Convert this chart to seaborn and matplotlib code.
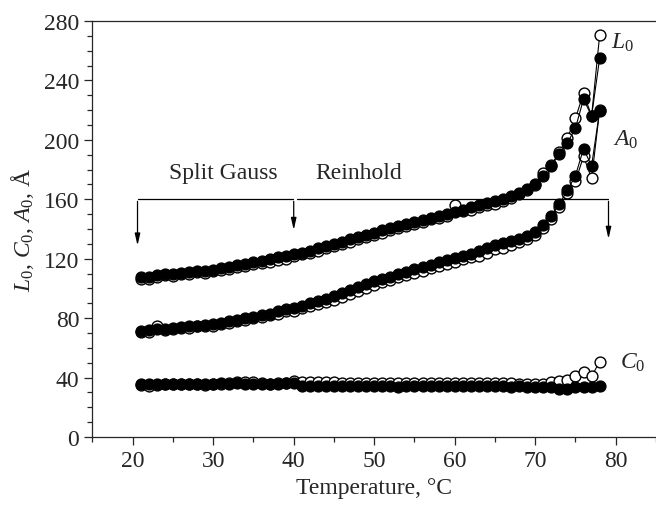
import matplotlib
matplotlib.use("Agg")
import matplotlib.pyplot as plt
from matplotlib.ticker import MultipleLocator
import seaborn as sns

temperature = [21, 22, 23, 24, 25, 26, 27, 28, 29, 30,
               31, 32, 33, 34, 35, 36, 37, 38, 39, 40,
               41, 42, 43, 44, 45, 46, 47, 48, 49, 50,
               51, 52, 53, 54, 55, 56, 57, 58, 59, 60,
               61, 62, 63, 64, 65, 66, 67, 68, 69, 70,
               71, 72, 73, 74, 75, 76, 77, 78]

L0_filled = [108, 108, 109, 109.5, 110, 110.5, 111, 111.5, 112, 112.5,
             113.5, 114.5, 115.5, 116.5, 117.5, 118.5, 119.5, 121, 122, 123,
             124, 125.5, 127, 128.5, 130, 131.5, 133, 134.5, 136, 137.5,
             139, 140.5, 142, 143.5, 145, 146, 147.5, 149, 150, 151.5,
             153, 154.5, 156, 157.5, 159, 160.5, 162.5, 164.5, 167, 170,
             176, 182.5, 190.5, 198, 208, 227.5, 216, 255]
L0_open = [106.5, 106.5, 108, 109, 108.5, 109.5, 110, 111, 110.5, 111.5,
           112.5, 113, 114.5, 115, 116.5, 117, 118, 119, 120, 121.5,
           123, 124, 125.5, 127, 128.5, 130, 131.5, 133, 134.5, 136,
           137.5, 139, 140.5, 142, 143.5, 145, 146.5, 147.5, 149, 156,
           152, 153, 154.5, 156, 157, 159, 161, 163.5, 166, 169.5,
           178, 183, 192, 201.5, 214.5, 231.5, 216, 270.5]

A0_filled = [71.5, 72, 72.5, 73, 73.5, 74, 74.5, 75, 75.5, 76,
             77, 78, 79, 80, 81, 82, 83, 84.5, 86, 87,
             88.5, 90, 91.5, 93, 95, 97, 99, 101, 103, 105,
             106.5, 108, 109.5, 111, 113, 114.5, 116, 117.5, 119, 120.5,
             122, 123.5, 125, 127, 129, 130.5, 132, 133.5, 135, 138,
             143, 149, 157, 166, 176, 194, 182.5, 219.5]
A0_open = [70.5, 71, 75, 72, 72.5, 73.5, 73.5, 74.5, 74.5, 75,
           76, 77, 78, 79, 80, 81, 82, 83, 84.5, 85,
           86.5, 88, 89.5, 91, 92.5, 94.5, 96.5, 98, 100.5, 102,
           104, 105.5, 107.5, 109, 110.5, 112, 113.5, 115, 116.5, 118,
           119.5, 121, 122, 124, 126.5, 127.5, 129.5, 131, 133, 136,
           141, 147, 155, 164, 172, 189, 174, 220]

C0_filled = [36, 36, 36, 36, 36, 36, 36, 36, 36, 36,
             36.5, 36, 36.5, 36, 36, 36, 36, 36, 36.5, 36.5,
             34, 34, 34, 34, 34, 34, 34, 34, 34, 34,
             34, 34, 33.5, 34, 34, 34, 34, 34, 34, 34,
             34, 34, 34, 34, 34, 34, 33.5, 34, 33.5, 33.5,
             33.5, 33.5, 32, 32.5, 33.5, 33.5, 33.5, 34]
C0_open = [35, 34.5, 35, 35.5, 35.5, 35.5, 35.5, 35.5, 35, 35.5,
           36, 36.5, 37, 37, 37, 36.5, 36, 36.5, 36.5, 37.5,
           37, 37, 37, 37, 37, 36.5, 36.5, 36.5, 36.5, 36.5,
           36.5, 36.5, 36.5, 36.5, 36.5, 36.5, 36.5, 36.5, 36.5, 36.5,
           36.5, 36.5, 36.5, 36.5, 36.5, 36.5, 36.5, 36, 35.5, 35.5,
           35.5, 36.8, 37.5, 38.4, 40.8, 43.5, 40.8, 50.7]

sns.set_style("ticks")
plt.rcParams["font.family"] = ["Liberation Serif", "DejaVu Serif"]
plt.rcParams["mathtext.fontset"] = "custom"
plt.rcParams["mathtext.rm"] = "Liberation Serif"
plt.rcParams["mathtext.it"] = "Liberation Serif:italic"

fig = plt.figure(figsize=(6.56, 5.06), dpi=100)
ax = fig.add_axes([0.1409, 0.1344, 0.8591, 0.8221])

marker_kw = dict(marker="o", markersize=7.8, markeredgewidth=1.0,
                 markeredgecolor="black", color="black", linewidth=0.8)

for series in (L0_open, A0_open, C0_open):
    sns.lineplot(x=temperature, y=series, ax=ax, sort=False,
                 markerfacecolor="white", **marker_kw)
for series in (L0_filled, A0_filled, C0_filled):
    sns.lineplot(x=temperature, y=series, ax=ax, sort=False,
                 markerfacecolor="black", **marker_kw)

# brackets for the fit ranges
ax.plot([20.6, 39.95], [160, 160], color="black", lw=0.9)
ax.plot([40.4, 79.1], [160, 160], color="black", lw=0.9)
arrow = dict(arrowstyle="-|>,head_length=0.7,head_width=0.16", color="black", lw=0.9)
for x0, y1 in [(20.6, 127), (40.0, 137.5), (79.1, 131.5)]:
    ax.annotate("", xy=(x0, y1), xytext=(x0, 160.5), arrowprops=arrow)

ax.text(31.2, 178, "Split Gauss", fontsize=17, ha="center", va="center")
ax.text(48.1, 178, "Reinhold", fontsize=17, ha="center", va="center")
ax.text(79.4, 266, r"$L_0$", fontsize=17, ha="left", va="center")
ax.text(79.6, 201, r"$A_0$", fontsize=17, ha="left", va="center")
ax.text(80.5, 50.5, r"$C_0$", fontsize=17, ha="left", va="center")

ax.set_xlim(15, 85)
ax.set_ylim(0, 280)
ax.xaxis.set_major_locator(MultipleLocator(10))
ax.xaxis.set_minor_locator(MultipleLocator(5))
ax.yaxis.set_major_locator(MultipleLocator(40))
ax.yaxis.set_minor_locator(MultipleLocator(10))
ax.tick_params(which="major", length=6, width=0.9, labelsize=17, direction="out")
ax.tick_params(which="minor", length=3.5, width=0.9, direction="out")
ax.spines["right"].set_visible(False)
for s in ("left", "bottom", "top"):
    ax.spines[s].set_linewidth(0.9)

ax.set_xlabel("Temperature, °C", fontsize=17)
ax.set_ylabel(r"$L_0$, $C_0$, $A_0$, Å", fontsize=17, labelpad=6)

fig.savefig("out.png", dpi=100)
